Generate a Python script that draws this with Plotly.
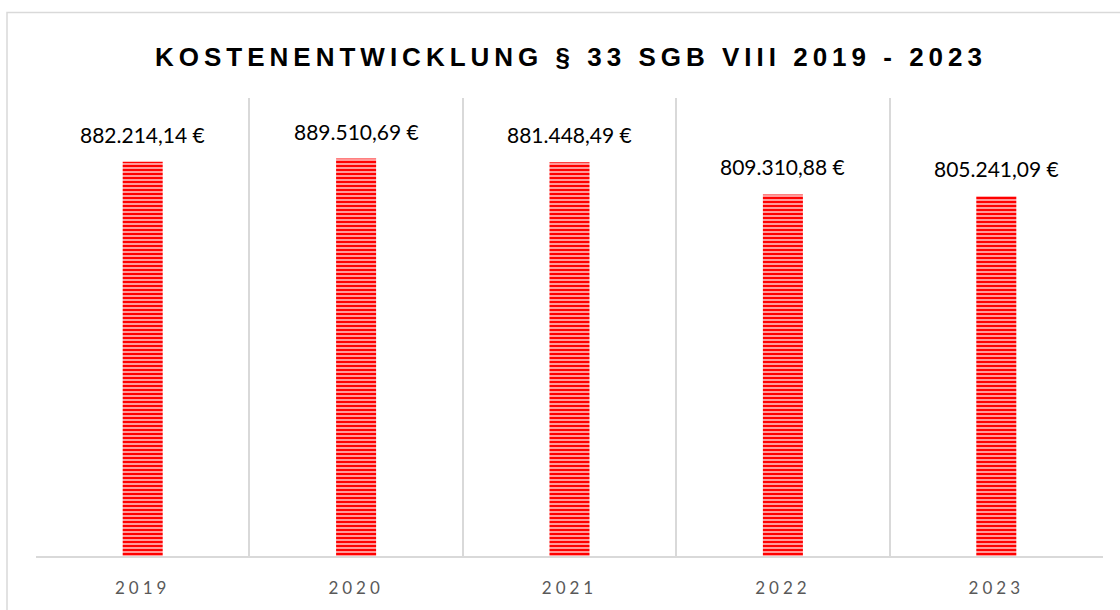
import plotly.graph_objects as go

years = ["2019", "2020", "2021", "2022", "2023"]
costs = [882214.14, 889510.69, 881448.49, 809310.88, 805241.09]
title_text = "KOSTENENTWICKLUNG § 33 SGB VIII 2019 - 2023"


def fmt_de(v):
    s = f"{v:,.2f}"
    return s.replace(",", "X").replace(".", ",").replace("X", ".") + " €"


labels = [fmt_de(v) for v in costs]

fig = go.Figure()
fig.add_trace(go.Bar(
    x=years, y=costs, width=0.1875,
    marker=dict(color="#ff0000", line=dict(width=0),
                pattern=dict(shape="-", fgcolor="white", bgcolor="#ff0000",
                             size=4, solidity=0.3, fgopacity=1)),
    hoverinfo="skip", showlegend=False,
))

for i, (y, t) in enumerate(zip(costs, labels)):
    fig.add_annotation(x=i, y=y, text=t, showarrow=False, yanchor="bottom",
                       yshift=13, font=dict(family="Lato", size=21, color="#000000"))

W, H = 1120, 610
L, R, T, B = 36, 17, 98, 51
pw, ph = W - L - R, H - T - B

fig.add_shape(type="rect", xref="paper", yref="paper",
              x0=(7 - L) / pw, x1=(1160 - L) / pw,
              y0=-(H + 40 - (T + ph)) / ph, y1=(H - B - 12) / ph,
              line=dict(color="#d9d9d9", width=1.5), fillcolor="rgba(0,0,0,0)", layer="below")

fig.update_layout(
    width=W, height=H,
    margin=dict(l=L, r=R, t=T, b=B),
    paper_bgcolor="white", plot_bgcolor="white",
    title=dict(text="<b>" + title_text + "</b>", x=(571 - L) / pw, xref="paper",
               xanchor="center", y=1 - 57 / H, yanchor="middle",
               font=dict(family="Liberation Sans", size=26, color="#000000")),
    xaxis=dict(type="category", range=[-0.5, len(years) - 0.5],
               tickson="boundaries", showgrid=True,
               gridcolor="#d9d9d9", gridwidth=2, showline=True, linecolor="#d9d9d9",
               linewidth=2, ticks="", ticklabelstandoff=16, tickangle=0,
               tickfont=dict(family="Lato", size=17, color="#595959"),
               fixedrange=True),
    yaxis=dict(range=[0, 1025000], visible=False, showgrid=False, zeroline=False,
               fixedrange=True),
)

post = """
document.body.style.margin = '0';
document.body.style.overflow = 'hidden';
var gd = document.getElementById('{plot_id}');
function sp(){
  gd.querySelectorAll('.gtitle').forEach(function(e){ e.style.letterSpacing='5px'; });
  gd.querySelectorAll('.xtick text').forEach(function(e){ e.style.letterSpacing='4px'; });
}
sp();
gd.on('plotly_afterplot', sp);
"""

fig.write_html("out.html", post_script=post, config={"displayModeBar": False})
